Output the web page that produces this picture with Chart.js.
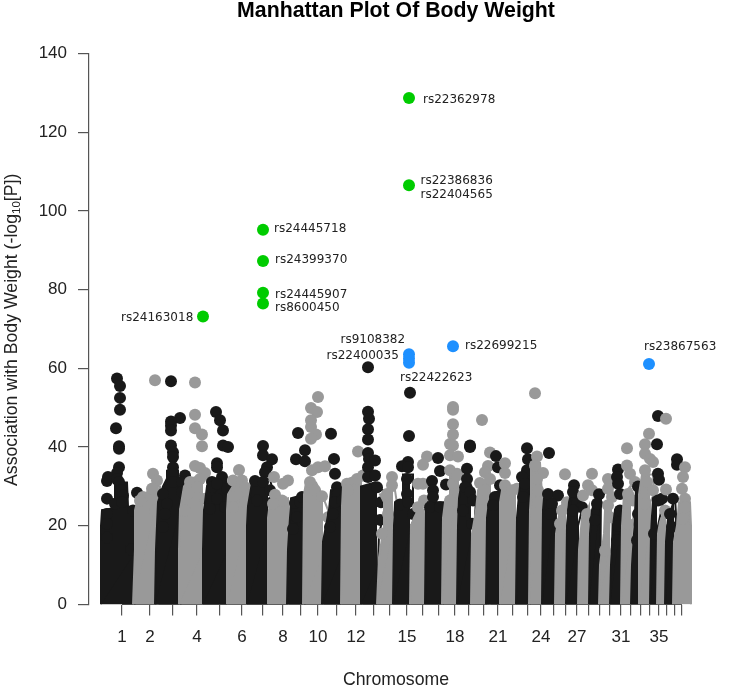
<!DOCTYPE html>
<html><head><meta charset="utf-8">
<style>html,body{margin:0;padding:0;background:#fff}#w{position:relative;width:749px;height:695px}</style>
<script src="https://cdn.jsdelivr.net/npm/chart.js@4/dist/chart.umd.min.js"></script>
</head><body><div id="w"><canvas id="c" width="749" height="695"></canvas></div>
<script>
// x values are cumulative genome positions along the chromosome axis
const chrTickPos = [122,150,173,197,220,242,263,283,301,318,337,356,374,390,407,423,439,455,469,484,498,513,528,541,554,566,577,589,600,610,621,631,641,650,659,667,675,682];
const chrTickLabels = {1:"1",2:"2",4:"4",6:"6",8:"8",10:"10",12:"12",15:"15",18:"18",21:"21",24:"24",27:"27",31:"31",35:"35"};

// solid mass of each chromosome: outline [position, -log10 P]
const chr1Body=[[101,0],[101,20],[102,24],[115,24.5],[115,31],[127,31],[128,25],[136,24],[137,14],[135,0]];
const chr2Body=[[133,0],[135,14],[135,24],[138,27],[146,28],[150,30],[160,30],[160,20],[158,0]];
const chr3Body=[[155,0],[156,14],[157,20],[158,26],[163,30],[167,32],[167,34],[178,34],[178,32],[187,32],[187,28],[182,26],[181,0]];
const chr4Body=[[179,0],[179,14],[180,24],[184,30],[190,32],[205,33],[209,30],[211,26],[206,22],[204,14],[203,0]];
const chr5Body=[[203,0],[203,14],[204,24],[207,30],[212,32],[225,32],[230,29],[229,24],[228,14],[227,0]];
const chr6Body=[[227,0],[227,24],[228,28],[235,31],[245,31],[255,28],[250,24],[247,14],[247,0]];
const chr7Body=[[247,0],[247,20],[248,25],[252,31],[270,32],[275,26],[268,20],[268,0]];
const chr8Body=[[268,0],[268,22],[270,26],[288,27],[288,0]];
const chr9Body=[[287,0],[288,14],[290,22],[291,27],[305,28],[305,0]];
const chr10Body=[[303,0],[304,28],[306,31],[316,31],[322,28],[328,24],[329,16],[325,14],[323,0]];
const chr11Body=[[322,0],[323,16],[326,20],[329,24],[331,29],[341,29],[346,26],[344,14],[341,0]];
const chr12Body=[[341,0],[342,25],[343,30],[349,32],[361,33],[362,0]];
const chr13Body=[[361,0],[361,30],[375,31],[383,29],[385,24],[379,18],[378,10],[377,0]];
const chr14Body=[[377,0],[379,12],[384,20],[384,26],[380,28],[395,29],[398,24],[394,20],[393,0]];
const chr15Body=[[393,0],[394,20],[395,26],[403,26],[403,33],[413,33],[413,26],[417,23],[411,20],[410,0]];
const chr16Body=[[410,0],[411,20],[414,22],[418,24],[425,24],[425,0]];
const chr17Body=[[425,0],[426,24],[428,26],[443,26],[443,0]];
const chr18Body=[[442,0],[443,22],[445,26],[450,28],[450,34],[458,34],[458,26],[457,0]];
const chr19Body=[[457,0],[458,20],[459,27],[461,30],[470,31],[476,27],[475,22],[471,14],[471,0]];
const chr20Body=[[471,0],[472,18],[476,24],[478,29],[482,31],[490,31],[490,0]];
const chr21Body=[[486,0],[487,22],[489,26],[492,28],[500,29],[500,0]];
const chr22Body=[[500,0],[500,26],[502,29],[520,29],[516,0]];
const chr23Body=[[516,0],[517,22],[519,28],[521,32],[529,33],[530,0]];
const chr24Body=[[529,0],[530,24],[531,28],[531,36],[540,36],[542,28],[543,25],[542,0]];
const chr25Body=[[542,0],[543,24],[544,27],[556,27],[556,24],[555,0]];
const chr26Body=[[555,0],[556,18],[560,24],[565,27],[571,27],[567,20],[566,0]];
const chr27Body=[[566,0],[567,20],[569,26],[571,28],[576,30],[578,26],[582,24],[578,20],[578,0]];
const chr28Body=[[578,0],[579,14],[582,22],[586,23],[589,25],[589,0]];
const chr29Body=[[589,0],[590,18],[592,24],[596,27],[601,28],[600,0]];
const chr30Body=[[599,0],[600,10],[604,18],[605,24],[611,24],[612,18],[610,0]];
const chr31Body=[[610,0],[611,10],[613,20],[615,24],[622,24],[621,0]];
const chr32Body=[[621,0],[622,20],[624,28],[630,30],[636,26],[632,20],[631,0]];
const chr33Body=[[631,0],[632,10],[635,22],[636,30],[640,30],[640,0]];
const chr34Body=[[639,0],[639,28],[642,33],[653,33],[654,28],[650,26],[650,0]];
const chr35Body=[[650,0],[651,18],[653,27],[664,27],[658,20],[657,0]];
const chr36Body=[[657,0],[658,18],[660,21],[663,23],[665,22],[665,0]];
const chr37Body=[[665,0],[666,16],[668,22],[675,27],[676,23],[674,0]];
const chr38Body=[[673,0],[674,16],[677,20],[679,26],[690,26],[691,20],[691,0]];

// individual markers visible on each chromosome
const chr1Dots=[[117,57.4],[120,55.5],[120,52.5],[120,49.5],[116,44.8],[119,40.2],[119,39.6],[119,34.9],[117,33.4],[107,31.4],[108,32.4],[117,31.9],[119,31.1],[121,29],[123,27.7],[107,26.9],[115,25.6],[122,26],[133,23.9],[137,28.4],[107,23],[107,20.5],[107,17],[131,14]];
const chr2Dots=[[155,57],[153,33.2],[157,31.5],[152,29.4],[143,27.3],[153,29.4],[140,26.4],[157,17],[155,23.9]];
const chr3Dots=[[171,56.7],[180,47.4],[171,46.5],[171,45.5],[171,44.2],[171,40.4],[173,38.7],[173,37.5],[173,34.9],[172,33.2],[185,32.8],[173,31.1],[182,31.1],[163,28.1],[182,28.6],[167,25.6],[165,23],[163,19.7]];
const chr4Dots=[[195,56.4],[195,48.2],[195,44.8],[202,43.2],[202,40.2],[195,35.2],[200,34.7],[205,33.4],[190,31.1],[200,31.9],[197,29.8],[188,28.1],[205,26.9],[185,23.9]];
const chr5Dots=[[216,48.9],[220,46.8],[223,44.2],[223,40.4],[228,40],[217,35.9],[217,34.9],[222,32.4],[212,31.1],[212,29.8],[227,29.4],[217,30.7],[217,26.9],[210,24.3],[225,24.7]];
const chr6Dots=[[239,34.2],[233,31.5],[242,31.5],[245,29.8],[250,28.1],[233,27.3],[253,28.1],[245,26],[233,24.7]];
const chr7Dots=[[263,40.3],[263,37.9],[272,36.9],[267,34.9],[265,33.6],[255,31.4],[263,31.1],[270,29],[257,26.4],[272,26]];
const chr8Dots=[[274,32.4],[288,31.5],[283,30.7],[275,27.9],[282,26.4],[273,25.6]];
const chr9Dots=[[298,43.6],[305,39.2],[296,36.9],[305,36.4],[295,25.8],[300,26],[302,27.3],[297,22.2],[293,19.2]];
const chr10Dots=[[318,52.7],[311,49.9],[317,48.9],[311,46.8],[311,45.1],[316,43.2],[311,42.1],[312,34.1],[318,34.9],[325,35.1],[310,31.1],[315,29],[322,27.5],[328,22.2]];
const chr11Dots=[[331,43.4],[334,37],[335,33.2],[337,29.8],[338,28.1],[335,26],[342,26.4],[333,23],[330,19.7]];
const chr12Dots=[[358,38.9],[347,30.7],[357,31.9],[363,32.8],[348,29]];
const chr13Dots=[[368,60.3],[368,49],[369,47.2],[368,44.5],[368,41.9],[368,38.5],[369,37],[368,34.9],[368,32.4],[375,36.6],[375,32.8],[377,29.8],[381,26],[380,21.5]];
const chr14Dots=[[392,32.4],[392,30.3],[387,28.1],[388,23],[382,18]];
const chr15Dots=[[410,53.8],[409,42.8],[408,36.2],[402,35.1],[408,34.9],[407,31.9],[407,28.1],[400,25.4],[408,26],[413,23]];
const chr16Dots=[[427,37.6],[423,35.5],[423,30.7],[418,30.7],[424,26.4],[418,24.7]];
const chr17Dots=[[438,37.2],[440,33.9],[432,31.4],[433,29],[433,27.3],[430,24.7],[440,24.7],[446,30.5]];
const chr18Dots=[[453,50.2],[453,49.5],[453,45.8],[453,43.2],[450,40.8],[453,40.4],[450,37.9],[458,37.6],[450,34.1],[457,33.2],[453,30.7],[457,32.8],[455,28.1],[450,26.4]];
const chr19Dots=[[470,40.4],[470,40],[467,34.5],[467,31.9],[465,29.8],[470,28.6],[473,26.4],[463,23.9],[472,20.5]];
const chr20Dots=[[482,46.9],[490,38.6],[488,35.2],[485,33.6],[490,31.9],[480,30.9],[485,29],[482,23.9]];
const chr21Dots=[[496,37.7],[498,34.9],[500,30.3],[495,27.3],[493,25.2]];
const chr22Dots=[[505,35.9],[505,33.4],[505,30.3],[517,29.4],[512,29]];
const chr23Dots=[[527,39.7],[528,36.9],[527,34.1],[522,32.4],[525,30.7],[523,27.3]];
const chr24Dots=[[535,53.7],[537,37.6],[535,35.3],[543,33.4],[537,31.9],[538,29],[538,26]];
const chr25Dots=[[549,38.5],[548,28.1],[558,27.7],[552,25.6],[550,23]];
const chr26Dots=[[565,33.1],[567,26],[562,23.9],[560,20.5]];
const chr27Dots=[[574,30.3],[573,28.6],[577,25.6],[582,24.7],[573,23.9]];
const chr28Dots=[[592,33.2],[588,30.3],[583,27.7],[592,29],[587,23]];
const chr29Dots=[[599,28],[597,25.6],[595,21.4]];
const chr30Dots=[[608,31.9],[608,29.4],[612,27.3],[608,25.2],[610,22.2],[605,13.7]];
const chr31Dots=[[618,34.3],[617,32.4],[618,30.7],[620,28.1],[620,23.9],[618,20],[617,16.3]];
const chr32Dots=[[627,39.7],[627,35.3],[630,33.2],[635,31.1],[628,28.1],[633,26.4],[628,20.5]];
const chr33Dots=[[638,30],[638,23],[637,16.3]];
const chr34Dots=[[649,43.4],[645,40.7],[645,38.3],[650,37],[653,36.2],[645,34.1],[647,31.1],[653,29],[645,25.6]];
const chr35Dots=[[658,47.9],[657,40.7],[658,33.2],[659,31.7],[658,26.4],[662,26.9],[654,18]];
const chr36Dots=[[666,47.2],[666,29.2],[665,23.9]];
const chr37Dots=[[677,36.9],[677,35.5],[673,26.9],[670,23],[672,19.7]];
const chr38Dots=[[685,34.9],[683,32.4],[682,29.4],[685,26.9],[685,24.7],[683,21.8]];

// highlighted SNPs
const greenX=[409,409,263,263,263,263,203];
const greenY=[128.7,106.5,95.2,87.3,79.2,76.5,73.2];
const blueX=[409,409,409,453,649];
const blueY=[63.6,62.5,61.4,65.6,61.1];

// SNP names and the chart position each is written at
const snpNames=["rs22362978","rs22386836","rs22404565","rs24445718","rs24399370","rs24445907","rs8600450","rs24163018","rs9108382","rs22400035","rs22699215","rs22422623","rs23867563"];
const snpNameX=[423,420.5,420.5,274,275,275,275,121,340.5,326.5,465,400,644];
const snpNameY=[128.5,108,104.3,95.6,87.7,79,75.6,73,67.5,63.3,65.9,57.9,65.8];

const chrBodies=[chr1Body,chr2Body,chr3Body,chr4Body,chr5Body,chr6Body,chr7Body,chr8Body,chr9Body,chr10Body,chr11Body,chr12Body,chr13Body,chr14Body,chr15Body,chr16Body,chr17Body,chr18Body,chr19Body,chr20Body,chr21Body,chr22Body,chr23Body,chr24Body,chr25Body,chr26Body,chr27Body,chr28Body,chr29Body,chr30Body,chr31Body,chr32Body,chr33Body,chr34Body,chr35Body,chr36Body,chr37Body,chr38Body];
const chrDots=[chr1Dots,chr2Dots,chr3Dots,chr4Dots,chr5Dots,chr6Dots,chr7Dots,chr8Dots,chr9Dots,chr10Dots,chr11Dots,chr12Dots,chr13Dots,chr14Dots,chr15Dots,chr16Dots,chr17Dots,chr18Dots,chr19Dots,chr20Dots,chr21Dots,chr22Dots,chr23Dots,chr24Dots,chr25Dots,chr26Dots,chr27Dots,chr28Dots,chr29Dots,chr30Dots,chr31Dots,chr32Dots,chr33Dots,chr34Dots,chr35Dots,chr36Dots,chr37Dots,chr38Dots];

const BLACK='#191919', GRAY='#999999', R=6;
const toXY=a=>a.map(p=>({x:p[0],y:p[1]}));
const datasets=[];
chrBodies.forEach((b,i)=>{
  const col=i%2===0?BLACK:GRAY;
  datasets.push({type:'line',label:'chr'+(i+1)+' mass',data:toXY(b),order:200-2*i,borderColor:col,borderWidth:2,backgroundColor:col,fill:'origin',pointRadius:0,tension:0,clip:{left:50,right:50,top:50,bottom:0}});
  datasets.push({type:'scatter',label:'chr'+(i+1),data:toXY(chrDots[i]),order:199-2*i,backgroundColor:col,borderWidth:0,pointRadius:R,clip:false});
});
datasets.push({type:'scatter',label:'green',data:greenX.map((x,i)=>({x,y:greenY[i]})),order:2,backgroundColor:'#00cc00',borderWidth:0,pointRadius:R,clip:false});
datasets.push({type:'scatter',label:'blue',data:blueX.map((x,i)=>({x,y:blueY[i]})),order:1,backgroundColor:'#1e90ff',borderWidth:0,pointRadius:R,clip:false});

const annot={id:'annot',
  beforeDatasetsDraw(c){
    const {x,y}=c.scales,g=c.ctx;
    g.save();g.strokeStyle='#555';g.lineWidth=1.2;g.beginPath();
    g.moveTo(x.getPixelForValue(chrTickPos[0]),y.getPixelForValue(0));
    g.lineTo(x.getPixelForValue(chrTickPos[chrTickPos.length-1]),y.getPixelForValue(0));
    g.stroke();g.restore();
  },
  afterDatasetsDraw(c){
    const {x,y}=c.scales,g=c.ctx;
    g.save();g.fillStyle='#222';g.font='12px "DejaVu Sans"';g.textAlign='left';g.textBaseline='middle';
    snpNames.forEach((n,i)=>g.fillText(n,x.getPixelForValue(snpNameX[i]),y.getPixelForValue(snpNameY[i])+1));
    g.restore();
    // y axis title with subscript
    g.save();g.translate(17,486);g.rotate(-Math.PI/2);g.fillStyle='#222';g.textAlign='left';g.textBaseline='alphabetic';
    let t='Association with Body Weight (-log',px=0;
    g.font='17.7px "Liberation Sans"';g.fillText(t,px,0);px+=g.measureText(t).width;
    g.font='11.5px "Liberation Sans"';g.fillText('10',px,3);px+=g.measureText('10').width;
    g.font='17.7px "Liberation Sans"';g.fillText('[P])',px,0);
    g.restore();
  }};

Chart.defaults.font.family='"Liberation Sans"';
new Chart(document.getElementById('c'),{
  type:'scatter',
  data:{datasets},
  plugins:[annot],
  options:{
    responsive:false,animation:false,events:[],
    layout:{padding:{left:0,right:46,top:0,bottom:0}},
    plugins:{
      legend:{display:false},tooltip:{enabled:false},
      title:{display:true,text:'Manhattan Plot Of Body Weight',fullSize:false,color:'#000',
        font:{size:21.3,weight:'bold',family:'"Liberation Sans"',lineHeight:1},padding:{top:0,bottom:32.2}}
    },
    scales:{
      x:{type:'linear',min:89,max:703,
        afterFit(s){s.height=90.5;},
        afterBuildTicks(s){s.ticks=chrTickPos.map(value=>({value}));},
        border:{display:false},
        grid:{drawOnChartArea:false,drawTicks:true,tickLength:11,color:'#555',lineWidth:1.2},
        ticks:{autoSkip:false,maxRotation:0,minRotation:0,padding:12,color:'#222',font:{size:17},
          callback(v,i){return chrTickLabels[i+1]||'';}},
        title:{display:true,text:'Chromosome',color:'#222',font:{size:17.7,lineHeight:1.2},padding:{top:0,bottom:4}}
      },
      y:{type:'linear',min:0,max:140,
        afterFit(s){s.width=89;},
        border:{display:true,color:'#555',width:1.2},
        grid:{drawOnChartArea:false,drawTicks:true,tickLength:11,color:'#555',lineWidth:1.2},
        ticks:{stepSize:20,padding:11,color:'#222',font:{size:17}}
      }
    }
  }
});
</script></body></html>
